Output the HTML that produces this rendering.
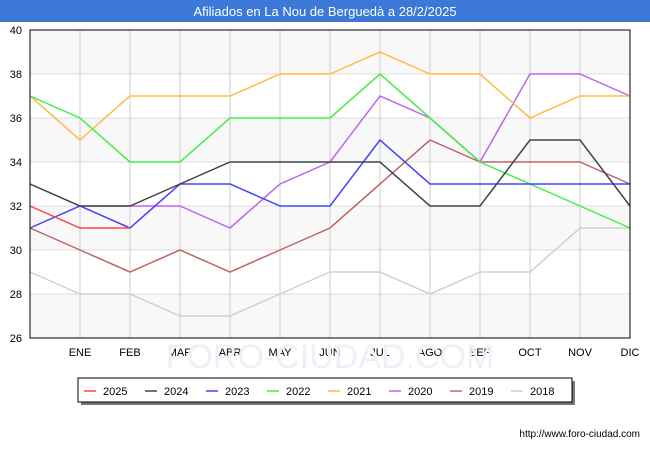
<!DOCTYPE html>
<html><head><meta charset="utf-8"><style>
body{margin:0;width:650px;height:450px;background:#fff;font-family:"Liberation Sans",sans-serif;overflow:hidden}
</style></head><body>
<svg width="650" height="450" id="c">
<rect x="0" y="0" width="650" height="22" fill="#3b78d8"/>
<text x="325" y="16" text-anchor="middle" fill="#fff" font-size="13">Afiliados en La Nou de Berguedà a 28/2/2025</text>
<g id="plot"></g>
<text x="640" y="437" text-anchor="end" font-size="10" fill="#000">http://www.foro-ciudad.com</text>
</svg>
<script>
const months=["","ENE","FEB","MAR","ABR","MAY","JUN","JUL","AGO","SEP","OCT","NOV","DIC"];
const yTicks=[26,28,30,32,34,36,38,40];
const years=["2025","2024","2023","2022","2021","2020","2019","2018"];
const colors=["#ff4444","#444444","#4444ff","#44ee44","#ffbb44","#bb66ee","#bb6666","#d0d0d0"];
const s2025=[32,31,31];
const s2024=[33,32,32,33,34,34,34,34,32,32,35,35,32];
const s2023=[31,32,31,33,33,32,32,35,33,33,33,33,33];
const s2022=[37,36,34,34,36,36,36,38,36,34,33,32,31];
const s2021=[37,35,37,37,37,38,38,39,38,38,36,37,37];
const s2020=[33,32,32,32,31,33,34,37,36,34,38,38,37];
const s2019=[31,30,29,30,29,30,31,33,35,34,34,34,33];
const s2018=[29,28,28,27,27,28,29,29,28,29,29,31,31];
const series=[s2025,s2024,s2023,s2022,s2021,s2020,s2019,s2018];
const NS="http://www.w3.org/2000/svg";
const X0=30,X1=630,Y0=338,Y1=30,YMIN=26,YMAX=40;
const xs=i=>X0+i*(X1-X0)/12;
const ys=v=>Y0-(v-YMIN)*(Y0-Y1)/(YMAX-YMIN);
const g=document.getElementById('plot');
function mk(t,a){const e=document.createElementNS(NS,t);for(const k in a)e.setAttribute(k,a[k]);g.appendChild(e);return e;}
for(let i=0;i<yTicks.length-1;i++){
 const b=mk('rect',{x:X0,y:ys(yTicks[i+1]),width:X1-X0,height:ys(yTicks[i])-ys(yTicks[i+1]),fill:(i%2==0)?'#f8f8f8':'#ffffff'});
 
 
}
yTicks.forEach(v=>{
 const l=mk('line',{x1:X0,x2:X1,y1:ys(v),y2:ys(v),stroke:'#dddddd'});
 
 
 const t=mk('text',{x:22,y:ys(v)+4,'text-anchor':'end','font-size':'11',fill:'#000'});
 t.textContent=v;
 
 
});
months.forEach((m,i)=>{
 const l=mk('line',{x1:xs(i),x2:xs(i),y1:Y1,y2:Y0,stroke:'#cccccc'});
 
 
 if(m){const t=mk('text',{x:xs(i),y:356,'text-anchor':'middle','font-size':'11',fill:'#000'});
 t.textContent=m;
 
 }
});
const wm=mk('text',{x:330,y:368,'text-anchor':'middle','font-size':'34',fill:'#eef0f8'});
wm.textContent='FORO-CIUDAD.COM';


for(let k=series.length-1;k>=0;k--){
 const p=mk('polyline',{points:series[k].map((v,i)=>xs(i)+','+ys(v)).join(' '),fill:'none',stroke:colors[k],'stroke-width':'1.5'});
 
 
}
const fr=mk('rect',{x:X0,y:Y1,width:X1-X0,height:Y0-Y1,fill:'none',stroke:'#000'});


const sh=mk('rect',{x:81,y:381,width:494,height:24,fill:'#777'});


const lb=mk('rect',{x:78,y:378,width:494,height:24,fill:'#fff',stroke:'#000'});


years.forEach((y,i)=>{
 const x=84+i*61;
 const l=mk('line',{x1:x,x2:x+12,y1:391,y2:391,stroke:colors[i],'stroke-width':'1.5'});
 
 
 const t=mk('text',{x:x+19,y:395,'font-size':'11',fill:'#000'});
 t.textContent=y;
 
 
});
</script>
</body></html>
